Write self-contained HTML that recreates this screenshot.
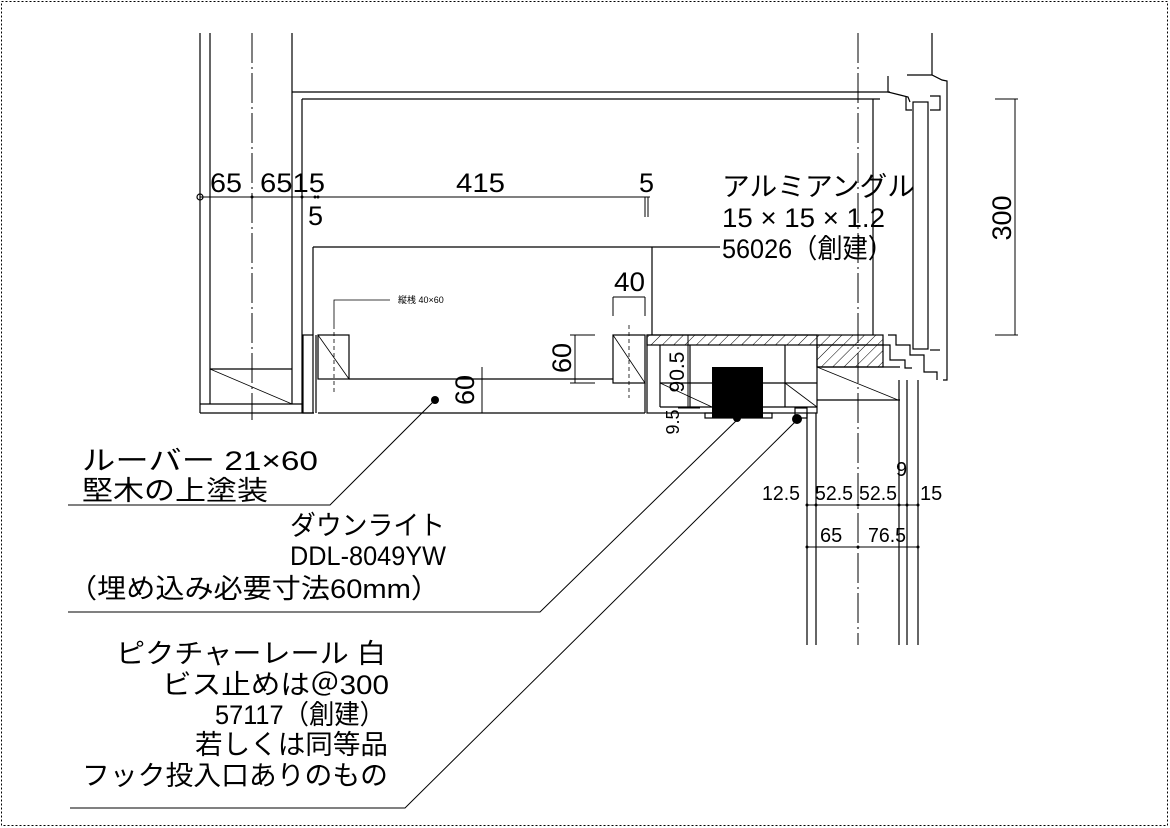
<!DOCTYPE html>
<html><head><meta charset="utf-8"><style>
html,body{margin:0;padding:0;background:#fff}
svg{display:block}
text{font-family:"Liberation Sans","Noto Sans CJK JP",sans-serif;fill:#000}
</style></head><body>
<svg width="1170" height="828" viewBox="0 0 1170 828" xmlns="http://www.w3.org/2000/svg">
<defs>
<pattern id="h" width="8" height="8" patternUnits="userSpaceOnUse" patternTransform="rotate(45)">
<line x1="0" y1="0" x2="0" y2="8" stroke="#000" stroke-width="1"/></pattern>
</defs>
<rect x="1.5" y="1.5" width="1166" height="824" fill="none" stroke="#000" stroke-dasharray="2,2"/>
<g stroke="#000" stroke-width="1.2" fill="none">
<line x1="200" y1="33" x2="200" y2="413"/>
<line x1="210" y1="33" x2="210" y2="404"/>
<line x1="252" y1="33" x2="252" y2="420" stroke-dasharray="30,4,2,4" stroke-width="1"/>
<line x1="292" y1="33" x2="292" y2="404"/>
<line x1="302" y1="99" x2="302" y2="413"/>
<line x1="292" y1="92" x2="890" y2="92"/>
<line x1="302" y1="99" x2="880" y2="99"/>
<line x1="200" y1="404" x2="302" y2="404"/>
<line x1="200" y1="413" x2="314" y2="413"/>
<line x1="210" y1="369" x2="292" y2="369"/>
<line x1="210" y1="369" x2="292" y2="404" stroke-width="0.8"/>
<line x1="200" y1="197" x2="650" y2="197" stroke-width="1"/>
<circle cx="200" cy="197" r="3"/>
<line x1="645" y1="197" x2="645" y2="217" stroke-width="1"/>
<line x1="648" y1="197" x2="648" y2="217" stroke-width="1"/>
<line x1="313" y1="247" x2="720" y2="247"/>
<line x1="313" y1="247" x2="313" y2="335"/>
<line x1="652" y1="247" x2="652" y2="335"/>
<rect x="303" y="335" width="10" height="78"/>
<line x1="316" y1="335" x2="316" y2="413"/>
<rect x="318" y="335" width="31" height="44"/>
<line x1="318" y1="335" x2="349" y2="379" stroke-width="0.8"/>
<line x1="334" y1="325" x2="334" y2="395" stroke-dasharray="4,3" stroke-width="0.8"/>
<polyline points="334,325 334,300 390,300" stroke-width="0.8"/>
<line x1="349" y1="379" x2="613" y2="379"/>
<line x1="318" y1="413" x2="645" y2="413"/>
<line x1="482" y1="367" x2="482" y2="413" stroke-width="1"/>
<rect x="613" y="335" width="32" height="48"/>
<line x1="613" y1="335" x2="645" y2="383" stroke-width="0.8"/>
<line x1="629" y1="325" x2="629" y2="398" stroke-dasharray="4,3" stroke-width="0.8"/>
<line x1="645" y1="383" x2="645" y2="413"/>
<line x1="575" y1="335" x2="575" y2="383" stroke-width="1"/>
<line x1="570" y1="335" x2="595" y2="335" stroke-width="1"/>
<line x1="570" y1="383" x2="595" y2="383" stroke-width="1"/>
<line x1="613" y1="297" x2="645" y2="297" stroke-width="1"/>
<line x1="613" y1="297" x2="613" y2="316" stroke-width="1"/>
<line x1="645" y1="297" x2="645" y2="316" stroke-width="1"/>
<rect x="647" y="335" width="236" height="10" fill="url(#h)"/>
<rect x="817" y="345" width="66" height="22" fill="url(#h)"/>
<rect x="647" y="335" width="170" height="78"/>
<line x1="660" y1="345" x2="660" y2="407"/>
<line x1="690" y1="345" x2="690" y2="407"/>
<line x1="785" y1="345" x2="785" y2="407"/>
<line x1="660" y1="383" x2="817" y2="383"/>
<line x1="660" y1="407" x2="817" y2="407"/>
<line x1="660" y1="383" x2="712" y2="407" stroke-width="0.8"/>
<line x1="785" y1="383" x2="817" y2="407" stroke-width="0.8"/>
<line x1="817" y1="367" x2="900" y2="367"/>
<line x1="817" y1="400" x2="900" y2="400"/>
<line x1="817" y1="367" x2="898" y2="400" stroke-width="0.8"/>
<rect x="705" y="413" width="67" height="5"/>
<line x1="688" y1="335" x2="688" y2="408" stroke-width="1"/>
<line x1="678" y1="408" x2="700" y2="408" stroke-width="1"/>
<rect x="795" y="408" width="12" height="10"/>
<line x1="858" y1="33" x2="858" y2="645" stroke-dasharray="30,4,2,4" stroke-width="1"/>
<line x1="932" y1="33" x2="932" y2="75"/>
<line x1="873" y1="99" x2="873" y2="335"/>
<line x1="807" y1="413" x2="807" y2="645"/>
<line x1="816" y1="413" x2="816" y2="645"/>
<line x1="899" y1="380" x2="899" y2="645"/>
<line x1="907" y1="380" x2="907" y2="645"/>
<line x1="918" y1="380" x2="918" y2="645"/>
<rect x="913" y="102" width="15" height="247"/>
<polyline points="907,75 932,75 942,80 947,81 947,380 943,380"/>
<polyline points="888,76 888,92 900,95 908,97 910,102"/>
<polyline points="906,97 906,110 912,110"/>
<polyline points="930,96 940,96 940,110 930,110"/>
<polyline points="888,335 896,335 896,345 910,345 910,355 924,355 924,372 937,372 937,380"/>
<polyline points="883,345 890,345 890,360 905,360 905,368 912,368"/>
<line x1="930" y1="350" x2="940" y2="350"/>
<line x1="807" y1="505" x2="918" y2="505" stroke-width="1"/>
<line x1="807" y1="547" x2="918" y2="547" stroke-width="1"/>
<line x1="1015" y1="99" x2="1015" y2="335" stroke-width="1"/>
<line x1="995" y1="99" x2="1018" y2="99" stroke-width="1"/>
<line x1="995" y1="335" x2="1018" y2="335" stroke-width="1"/>
<polyline points="435,400 330,505 68,505" stroke-width="1"/>
<polyline points="737,420 540,612 68,612" stroke-width="1"/>
<polyline points="797,420 405,808 70,808" stroke-width="1"/>
</g>
<rect x="712" y="367" width="51" height="51" fill="#000"/>
<circle cx="435" cy="400" r="4" fill="#000"/>
<circle cx="737" cy="418" r="4" fill="#000"/>
<circle cx="797" cy="419" r="5" fill="#000"/>
<g fill="#000">
<circle cx="252" cy="197" r="1.5"/><circle cx="302" cy="197" r="1.5"/><circle cx="315" cy="197" r="1.5"/><circle cx="318" cy="197" r="1.5"/>
<circle cx="807" cy="505" r="1.5"/><circle cx="816" cy="505" r="1.5"/><circle cx="858" cy="505" r="1.5"/><circle cx="899" cy="505" r="1.5"/><circle cx="907" cy="505" r="1.5"/><circle cx="918" cy="505" r="1.5"/>
<circle cx="807" cy="547" r="1.5"/><circle cx="858" cy="547" r="1.5"/><circle cx="918" cy="547" r="1.5"/>
</g>
<g font-size="27" lengthAdjust="spacingAndGlyphs">
<text x="210" y="192" textLength="32" lengthAdjust="spacingAndGlyphs">65</text>
<text x="260" y="192" textLength="65" lengthAdjust="spacingAndGlyphs">6515</text>
<text x="456" y="192" textLength="49" lengthAdjust="spacingAndGlyphs">415</text>
<text x="639" y="192" textLength="15" lengthAdjust="spacingAndGlyphs">5</text>
<text x="308" y="225">5</text>
<text x="614" y="291" textLength="31" lengthAdjust="spacingAndGlyphs">40</text>
<text transform="translate(474,390) rotate(-90)" text-anchor="middle">60</text>
<text transform="translate(571,358) rotate(-90)" text-anchor="middle">60</text>
<text transform="translate(1011,218) rotate(-90)" text-anchor="middle">300</text>
</g>
<text transform="translate(684,372) rotate(-90)" text-anchor="middle" font-size="21">90.5</text>
<text transform="translate(679,422) rotate(-90)" text-anchor="middle" font-size="18">9.5</text>
<text x="398" y="303" font-size="9">縦桟 40×60</text>
<g font-size="20">
<text x="762" y="500" textLength="38" lengthAdjust="spacingAndGlyphs">12.5</text>
<text x="815" y="500" textLength="38" lengthAdjust="spacingAndGlyphs">52.5</text>
<text x="859" y="500" textLength="38" lengthAdjust="spacingAndGlyphs">52.5</text>
<text x="896" y="476">9</text>
<text x="920" y="500">15</text>
<text x="820" y="542">65</text>
<text x="868" y="542" textLength="38" lengthAdjust="spacingAndGlyphs">76.5</text>
</g>
<g font-size="27">
<text x="722" y="196" textLength="193" lengthAdjust="spacingAndGlyphs">アルミアングル</text>
<text x="722" y="227" textLength="163" lengthAdjust="spacingAndGlyphs">15 × 15 × 1.2</text>
<text x="722" y="258" textLength="171" lengthAdjust="spacingAndGlyphs">56026（創建）</text>
<text x="82" y="470" textLength="236" lengthAdjust="spacingAndGlyphs">ルーバー  21×60</text>
<text x="82" y="500" textLength="186" lengthAdjust="spacingAndGlyphs">堅木の上塗装</text>
<text x="290" y="535" textLength="155" lengthAdjust="spacingAndGlyphs">ダウンライト</text>
<text x="290" y="565" textLength="156" lengthAdjust="spacingAndGlyphs">DDL-8049YW</text>
<text x="68" y="598" textLength="372" lengthAdjust="spacingAndGlyphs">（埋め込み必要寸法60mm）</text>
<text x="116" y="663" textLength="270" lengthAdjust="spacingAndGlyphs">ピクチャーレール  白</text>
<text x="162" y="694" textLength="227" lengthAdjust="spacingAndGlyphs">ビス止めは＠300</text>
<text x="215" y="724" textLength="170" lengthAdjust="spacingAndGlyphs">57117（創建）</text>
<text x="195" y="754" textLength="193" lengthAdjust="spacingAndGlyphs">若しくは同等品</text>
<text x="82" y="785" textLength="306" lengthAdjust="spacingAndGlyphs">フック投入口ありのもの</text>
</g>
</svg>
</body></html>
